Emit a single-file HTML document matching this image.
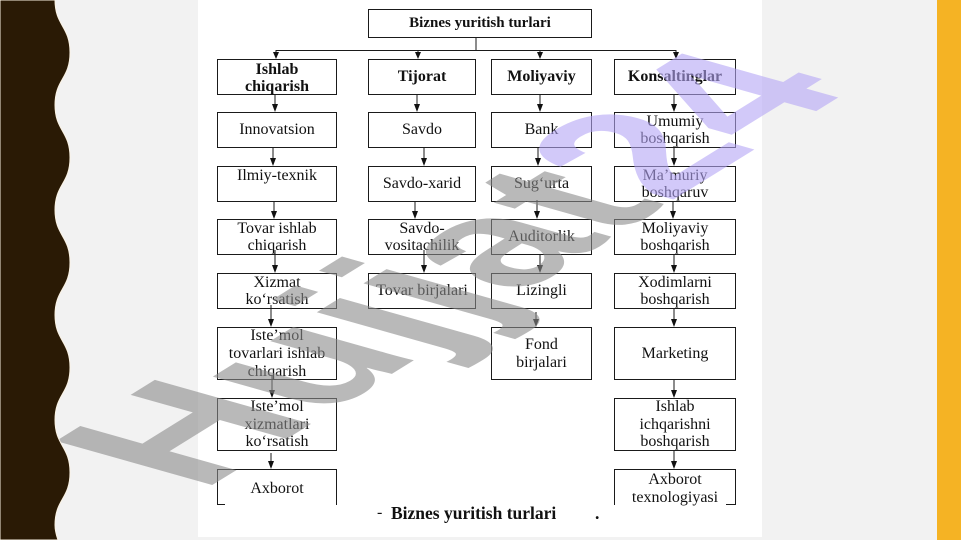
<!DOCTYPE html>
<html><head><meta charset="utf-8"><style>
html,body{margin:0;padding:0;overflow:hidden;width:961px;height:540px}
body{font-family:"Liberation Serif",serif}
#wrap{position:relative;width:961px;height:540px;overflow:hidden;background:#f2f2f2}
.paper{position:absolute;left:198px;top:0;width:564px;height:537px;background:#fff}
.yel{position:absolute;left:937px;top:0;width:24px;height:540px;background:#f5b324}
.b{position:absolute;box-sizing:border-box;border:1px solid #1a1a1a;display:flex;align-items:center;justify-content:center;text-align:center;font-size:16px;line-height:17.5px;color:#111;white-space:nowrap}
.h{font-weight:bold}
.open{border-bottom:none}
.abs{position:absolute;white-space:nowrap;color:#111}
svg{display:block}
</style></head><body>
<div id="wrap">
<div class="paper"></div>
<div class="yel"></div>

<!-- top -->
<div class="b h" style="left:368px;top:9px;width:224px;height:29px;font-size:15px">Biznes yuritish turlari</div>

<!-- level 1 -->
<div class="b h" style="left:217px;top:59px;width:120px;height:36px;padding-top:2px">Ishlab<br>chiqarish</div>
<div class="b h" style="left:368px;top:59px;width:108px;height:36px">Tijorat</div>
<div class="b h" style="left:491px;top:59px;width:101px;height:36px">Moliyaviy</div>
<div class="b h" style="left:614px;top:59px;width:122px;height:36px">Konsaltinglar</div>

<!-- level 2 -->
<div class="b" style="left:217px;top:112px;width:120px;height:36px">Innovatsion</div>
<div class="b" style="left:368px;top:112px;width:108px;height:36px">Savdo</div>
<div class="b" style="left:491px;top:112px;width:101px;height:36px">Bank</div>
<div class="b" style="left:614px;top:112px;width:122px;height:36px">Umumiy<br>boshqarish</div>

<!-- level 3 -->
<div class="b" style="left:217px;top:166px;width:120px;height:36px;align-items:flex-start">Ilmiy-texnik</div>
<div class="b" style="left:368px;top:166px;width:108px;height:36px">Savdo-xarid</div>
<div class="b" style="left:491px;top:166px;width:101px;height:36px">Sug‘urta</div>
<div class="b" style="left:614px;top:166px;width:122px;height:36px">Ma’muriy<br>boshqaruv</div>

<!-- level 4 -->
<div class="b" style="left:217px;top:219px;width:120px;height:36px">Tovar ishlab<br>chiqarish</div>
<div class="b" style="left:368px;top:219px;width:108px;height:36px">Savdo-<br>vositachilik</div>
<div class="b" style="left:491px;top:219px;width:101px;height:36px">Auditorlik</div>
<div class="b" style="left:614px;top:219px;width:122px;height:36px">Moliyaviy<br>boshqarish</div>

<!-- level 5 -->
<div class="b" style="left:217px;top:273px;width:120px;height:36px">Xizmat<br>ko‘rsatish</div>
<div class="b" style="left:368px;top:273px;width:108px;height:36px">Tovar birjalari</div>
<div class="b" style="left:491px;top:273px;width:101px;height:36px">Lizingli</div>
<div class="b" style="left:614px;top:273px;width:122px;height:36px">Xodimlarni<br>boshqarish</div>

<!-- level 6 -->
<div class="b" style="left:217px;top:327px;width:120px;height:53px;line-height:18px">Iste’mol<br>tovarlari ishlab<br>chiqarish</div>
<div class="b" style="left:491px;top:327px;width:101px;height:53px">Fond<br>birjalari</div>
<div class="b" style="left:614px;top:327px;width:122px;height:53px">Marketing</div>

<!-- level 7 -->
<div class="b" style="left:217px;top:398px;width:120px;height:53px">Iste’mol<br>xizmatlari<br>ko‘rsatish</div>
<div class="b" style="left:614px;top:398px;width:122px;height:53px">Ishlab<br>ichqarishni<br>boshqarish</div>

<!-- level 8 (cropped) -->
<div class="b open" style="left:217px;top:469px;width:120px;height:36px;align-items:flex-start;padding-top:10px">Axborot</div>
<div class="b open" style="left:614px;top:469px;width:122px;height:36px;align-items:flex-start;padding-top:1px">Axborot<br>texnologiyasi</div>

<!-- caption -->
<div class="abs" style="left:377px;top:505px;font-size:16px;line-height:16px">-</div>
<div class="abs" style="left:391px;top:505px;font-size:17.5px;line-height:17.5px;font-weight:bold">Biznes yuritish turlari</div>
<div class="abs" style="left:595px;top:505px;font-size:17.5px;line-height:17.5px;font-weight:bold">.</div>

<svg style="position:absolute;left:0;top:0" width="961" height="540" viewBox="0 0 961 540">
  <g stroke="#1a1a1a" stroke-width="1" fill="none">
    <line x1="476" y1="37" x2="476" y2="50"/>
    <line x1="276" y1="50.5" x2="676" y2="50.5"/>
    <line x1="276" y1="50" x2="276" y2="54"/>
    <line x1="418" y1="50" x2="418" y2="54"/>
    <line x1="540" y1="50" x2="540" y2="54"/>
    <line x1="676" y1="50" x2="676" y2="54"/>
    <line x1="275" y1="95" x2="275" y2="106"/>
    <line x1="417" y1="95" x2="417" y2="106"/>
    <line x1="540" y1="95" x2="540" y2="106"/>
    <line x1="674" y1="95" x2="674" y2="106"/>
    <line x1="273" y1="148" x2="273" y2="160"/>
    <line x1="424" y1="148" x2="424" y2="160"/>
    <line x1="538" y1="148" x2="538" y2="160"/>
    <line x1="674" y1="146" x2="674" y2="160"/>
    <line x1="274" y1="202" x2="274" y2="213"/>
    <line x1="415" y1="202" x2="415" y2="213"/>
    <line x1="537" y1="200" x2="537" y2="213"/>
    <line x1="673" y1="202" x2="673" y2="213"/>
    <line x1="275" y1="250" x2="275" y2="267"/>
    <line x1="424" y1="250" x2="424" y2="267"/>
    <line x1="540" y1="255" x2="540" y2="267"/>
    <line x1="674" y1="255" x2="674" y2="267"/>
    <line x1="271" y1="305" x2="271" y2="321"/>
    <line x1="536" y1="312" x2="536" y2="321"/>
    <line x1="674" y1="309" x2="674" y2="321"/>
    <line x1="272" y1="375" x2="272" y2="392"/>
    <line x1="674" y1="380" x2="674" y2="392"/>
    <line x1="271" y1="453" x2="271" y2="463"/>
    <line x1="674" y1="451" x2="674" y2="463"/>
    <line x1="217" y1="504.5" x2="225" y2="504.5"/>
    <line x1="726" y1="504.5" x2="736" y2="504.5"/>
  </g>
  <g fill="#111">
    <polygon points="273,52 279,52 276,59"/>
    <polygon points="415,52 421,52 418,59"/>
    <polygon points="537,52 543,52 540,59"/>
    <polygon points="673,52 679,52 676,59"/>
    <polygon points="272,104 278,104 275,112"/>
    <polygon points="414,104 420,104 417,112"/>
    <polygon points="537,104 543,104 540,112"/>
    <polygon points="671,104 677,104 674,112"/>
    <polygon points="270,158 276,158 273,166"/>
    <polygon points="421,158 427,158 424,166"/>
    <polygon points="535,158 541,158 538,166"/>
    <polygon points="671,158 677,158 674,166"/>
    <polygon points="271,211 277,211 274,219"/>
    <polygon points="412,211 418,211 415,219"/>
    <polygon points="534,211 540,211 537,219"/>
    <polygon points="670,211 676,211 673,219"/>
    <polygon points="272,265 278,265 275,273"/>
    <polygon points="421,265 427,265 424,273"/>
    <polygon points="537,265 543,265 540,273"/>
    <polygon points="671,265 677,265 674,273"/>
    <polygon points="268,319 274,319 271,327"/>
    <polygon points="533,319 539,319 536,327"/>
    <polygon points="671,319 677,319 674,327"/>
    <polygon points="269,390 275,390 272,398"/>
    <polygon points="671,390 677,390 674,398"/>
    <polygon points="268,461 274,461 271,469"/>
    <polygon points="671,461 677,461 674,469"/>
  </g>
</svg>

<!-- watermark -->
<svg style="position:absolute;left:0;top:0" width="961" height="540" viewBox="0 0 961 540">
  <text x="0" y="0" font-family="Liberation Sans, sans-serif" font-weight="bold" font-size="100"
        transform="matrix(1.68,-1.04,2.27,0.64,201,492)"><tspan fill="#8a8a8a" fill-opacity="0.6">Hujjat</tspan><tspan fill="rgb(180,165,245)" fill-opacity="0.6">24</tspan></text>
</svg>

<!-- left wavy strip -->
<svg style="position:absolute;left:0;top:0" width="90" height="540" viewBox="0 0 90 540">
  <path d="M0,0 L55,0 C55,26 70,26 70,52.5 S55,79 55,105 S70,131 70,157.5 S55,184 55,210 S70,236 70,262.5 S55,289 55,315 S70,341 70,367.5 S55,394 55,420 S70,446 70,472.5 S55,499 55,525 C55,532 57,537 58,540 L0,540 Z"
        fill="#2a1a05" stroke="#fbf3e4" stroke-width="1"/>
</svg>
</div>
</body></html>
